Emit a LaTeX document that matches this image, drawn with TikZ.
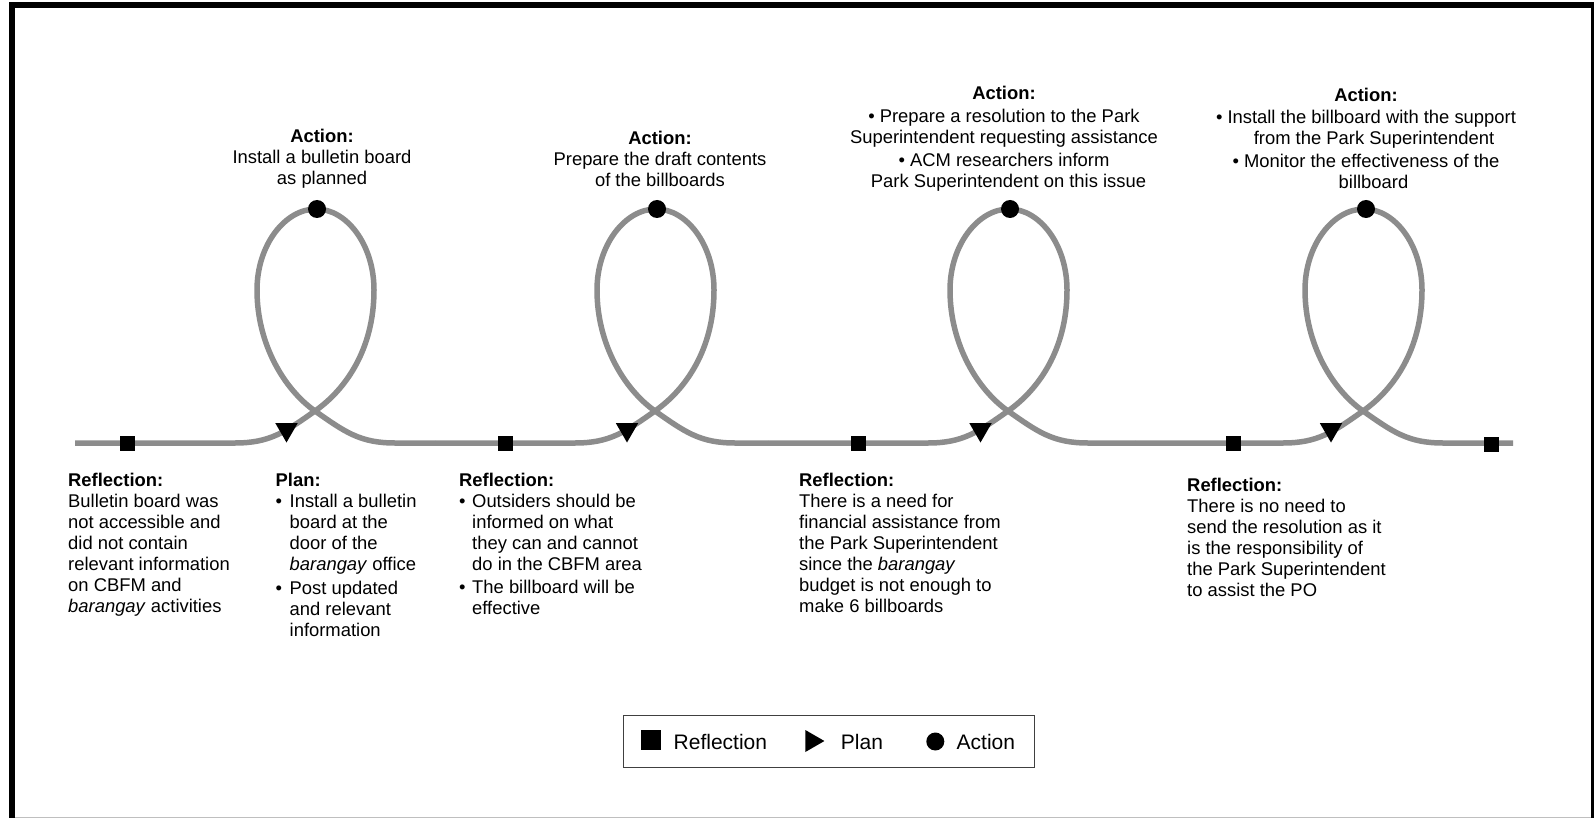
\documentclass[tikz,border=0pt]{standalone}
\usepackage{fontspec}
\setmainfont{Liberation Sans}
\usetikzlibrary{shapes.geometric}
\definecolor{trackgray}{RGB}{140,140,140}
% bullets with hanging indents for the lists under the track
\newcommand\lbul{\makebox[14pt][l]{•}}
\newcommand\lind{\hspace*{14pt}}
\newcommand\rbul{\makebox[13pt][l]{•}}
\newcommand\rind{\hspace*{13pt}}
% one stretch of track with a loop whose crossing is at x = #2
\newcommand\trackloop[3]{%
  \draw[track] (#1,443) -- ({#2-80},443)
    .. controls ({#2-45},443) and ({#2-30},432) .. (#2,411)
    .. controls ({#2+30},390) and ({#2+59},350) .. ({#2+59},290)
    .. controls ({#2+59},245) and ({#2+32},209) .. ({#2+1},209)
    .. controls ({#2-30},209) and ({#2-58},245) .. ({#2-58},290)
    .. controls ({#2-58},345) and ({#2-30},390) .. (#2,411)
    .. controls ({#2+30},432) and ({#2+45},443) .. ({#2+80},443)
    -- (#3,443);}
\begin{document}
% text nodes are placed by the baseline of their last line
\begin{tikzpicture}[x=1pt,y=-1pt,
  track/.style={draw=trackgray, line width=5.5pt},
  reflmark/.style={rectangle, fill=black, minimum size=15pt, inner sep=0pt},
  planmark/.style={regular polygon, regular polygon sides=3, shape border rotate=180,
    fill=black, minimum size=26pt, inner sep=0pt},
  actmark/.style={circle, fill=black, minimum size=18pt, inner sep=0pt},
  body/.style={font=\fontsize{18.4}{21.1}\selectfont, inner sep=0pt, align=left, anchor=base west},
  head/.style={font=\fontsize{18.4}{20.8}\selectfont, inner sep=0pt, align=center, anchor=base},
  legtext/.style={font=\fontsize{21}{24}\selectfont, inner sep=0pt, anchor=base west},
]
\fill[white] (0,0) rectangle (1594,818);
\useasboundingbox (0,0) rectangle (1594,818);

% frame
\draw[line width=6pt] (12,818) -- (12,5.3);
\draw[line width=6pt] (9,5.3) -- (1594,5.3);
\draw[line width=3pt] (1592.5,2.3) -- (1592.5,818);
\draw[line width=1.2pt, black!25] (15,817.3) -- (1591,817.3);

% track
\trackloop{75}{315}{435}
\trackloop{435}{655}{768}
\trackloop{768}{1008}{1135}
\trackloop{1135}{1363}{1513}

% markers
\node[reflmark] (r1) at (127.5,443) {};
\node[reflmark] (r2) at (505.5,443) {};
\node[reflmark] (r3) at (858.5,443) {};
\node[reflmark] (r4) at (1233.5,443) {};
\node[reflmark] (r5) at (1491.5,444) {};
\node[planmark] (p1) at (286.5,429.5) {};
\node[planmark] (p2) at (627,429.5) {};
\node[planmark] (p3) at (980.5,429.5) {};
\node[planmark] (p4) at (1331,429.5) {};
\node[actmark] (a1) at (317,209) {};
\node[actmark] (a2) at (657,209) {};
\node[actmark] (a3) at (1010,209) {};
\node[actmark] (a4) at (1366,209) {};

% action texts above the loops
\node[head] (ta1) at (322,184.3) {\textbf{Action:}\\ Install a bulletin board\\ as planned};
\node[head] (ta2) at (660,186.6) {\textbf{Action:}\\ Prepare the draft contents\\ of the billboards};
\node[head] (ta3) at (1004,187.2) {\textbf{Action:}\\[2pt]
  •\hspace{5pt}Prepare a resolution to the Park\\
  Superintendent requesting assistance\\[2pt]
  •\hspace{5pt}ACM researchers inform\\
  \hspace*{9pt}Park Superintendent on this issue};
\node[head] (ta4) at (1366,188.3) {\textbf{Action:}\\[2pt]
  •\hspace{5pt}Install the billboard with the support\\
  \hspace*{16pt}from the Park Superintendent\\[2pt]
  •\hspace{5pt}Monitor the effectiveness of the\\
  \hspace*{15pt}billboard};

% reflection and plan texts below the track
\node[body] (tr1) at (68,612.6) {\textbf{Reflection:}\\ Bulletin board was\\ not accessible and\\
  did not contain\\ relevant information\\ on CBFM and\\ \textit{barangay} activities};
\node[body] (tp1) at (275.5,636.7) {\textbf{Plan:}\\ \lbul Install a bulletin\\ \lind board at the\\
  \lind door of the\\ \lind \textit{barangay} office\\[3pt] \lbul Post updated\\
  \lind and relevant\\ \lind information};
\node[body] (tr2) at (459,614.6) {\textbf{Reflection:}\\ \rbul Outsiders should be\\ \rind informed on what\\
  \rind they can and cannot\\ \rind do in the CBFM area\\[2pt] \rbul The billboard will be\\
  \rind effective};
\node[body] (tr3) at (799,612.6) {\textbf{Reflection:}\\ There is a need for\\ financial assistance from\\
  the Park Superintendent\\ since the \textit{barangay}\\ budget is not enough to\\ make 6 billboards};
\node[body] (tr4) at (1187,596.5) {\textbf{Reflection:}\\ There is no need to\\ send the resolution as it\\
  is the responsibility of\\ the Park Superintendent\\ to assist the PO};

% legend
\node[draw=black!75, line width=1pt, minimum width=411pt, minimum height=52pt, inner sep=0pt]
  (legend) at (828.8,741.2) {};
\node[reflmark, minimum size=20pt] (lr) at (651,740) {};
\node[regular polygon, regular polygon sides=3, shape border rotate=-90, fill=black,
  minimum size=25.4pt, inner sep=0pt] (lp) at (811.7,741) {};
\node[actmark] (la) at (935.3,741.5) {};
\node[legtext] (lrt) at (673.5,749.3) {Reflection};
\node[legtext] (lpt) at (840.7,749.3) {Plan};
\node[legtext] (lat) at (956.5,749.3) {Action};
\end{tikzpicture}
\end{document}
